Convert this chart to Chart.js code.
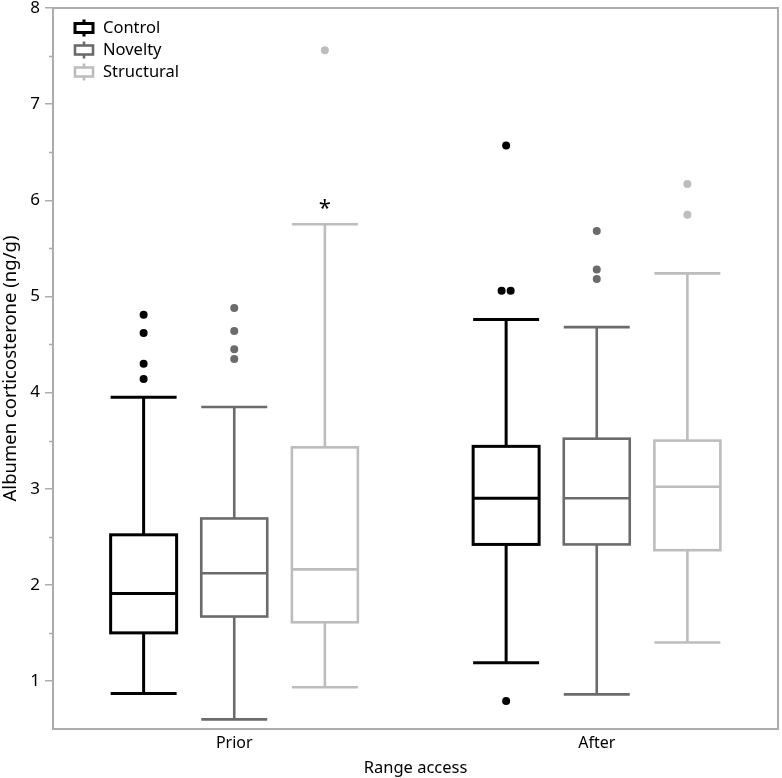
<!DOCTYPE html>
<html>
<head>
<meta charset="utf-8">
<title>Albumen corticosterone</title>
<script src="https://cdn.jsdelivr.net/npm/chart.js@4.4.1/dist/chart.umd.min.js"></script>
<style>
  html, body { margin: 0; padding: 0; background: #fff; }
  #wrap { width: 782px; height: 778px; position: relative; }
</style>
</head>
<body>
<div id="wrap"><canvas id="boxChart"></canvas></div>
<script>
// groups on the x axis and the three treatments
const groups = ['Prior', 'After'];
const seriesNames = ['Control', 'Novelty', 'Structural'];

// one row per group: [whisker low, Q1, median, Q3, whisker high]
const controlBoxes = [[0.87, 1.50, 1.91, 2.52, 3.95], [1.19, 2.42, 2.90, 3.44, 4.76]];
const noveltyBoxes = [[0.60, 1.67, 2.12, 2.69, 3.85], [0.86, 2.42, 2.90, 3.52, 4.68]];
const structuralBoxes = [[0.935, 1.61, 2.16, 3.43, 5.75], [1.40, 2.36, 3.02, 3.50, 5.24]];

// outliers per group
const controlOutliers = [[4.81, 4.62, 4.30, 4.14], [6.57, 5.06, 5.06, 0.79]];
const noveltyOutliers = [[4.88, 4.64, 4.45, 4.35], [5.68, 5.28, 5.18]];
const structuralOutliers = [[7.56], [6.17, 5.85]];

// significance mark (asterisk) above this box
const starGroup = 'Prior';
const starSeries = 'Structural';

const yTickValues = [1, 2, 3, 4, 5, 6, 7, 8];
const yMinorValues = [1.5, 2.5, 3.5, 4.5, 5.5, 6.5, 7.5];

// styling
const seriesColors = ['#000000', '#6b6b6b', '#bdbdbd'];
const seriesLineWidths = [3, 2.6, 2.6];
const seriesOffsets = [-0.25, 0, 0.25]; // position within a group
const boxWidth = 0.182;                  // in x units
const frameColor = '#acacac';
const fontFamily = '"Noto Sans", "Open Sans", sans-serif';

const allBoxes = [controlBoxes, noveltyBoxes, structuralBoxes];
const allOutliers = [controlOutliers, noveltyOutliers, structuralOutliers];

// spread out identical outliers a little, like the original plot
function outlierPoints(list, s) {
  const pts = [];
  list.forEach((vals, g) => {
    vals.forEach((v, i) => {
      const same = vals.filter(w => Math.abs(w - v) < 0.02);
      const k = vals.slice(0, i).filter(w => Math.abs(w - v) < 0.02).length;
      const jitter = same.length > 1 ? (k - (same.length - 1) / 2) * 0.025 : 0;
      pts.push({ x: g + seriesOffsets[s] + jitter, y: v });
    });
  });
  return pts;
}

const datasets = seriesNames.map((name, s) => ({
  label: name,
  data: outlierPoints(allOutliers[s], s),
  backgroundColor: seriesColors[s],
  borderWidth: 0,
  pointRadius: 4,
  pointHoverRadius: 4
}));

const boxPlugin = {
  id: 'boxPlot',
  beforeDatasetsDraw(chart) {
    const ctx = chart.ctx;
    const x = chart.scales.x, y = chart.scales.y;
    const halfW = (x.getPixelForValue(boxWidth) - x.getPixelForValue(0)) / 2;
    ctx.save();
    allBoxes.forEach((boxes, s) => {
      ctx.strokeStyle = seriesColors[s];
      ctx.lineWidth = seriesLineWidths[s];
      ctx.lineCap = 'butt';
      boxes.forEach((b, g) => {
        const cx = x.getPixelForValue(g + seriesOffsets[s]);
        const [lo, q1, med, q3, hi] = b.map(v => y.getPixelForValue(v));
        ctx.beginPath();
        // whiskers
        ctx.moveTo(cx, q3); ctx.lineTo(cx, hi);
        ctx.moveTo(cx - halfW, hi); ctx.lineTo(cx + halfW, hi);
        ctx.moveTo(cx, q1); ctx.lineTo(cx, lo);
        ctx.moveTo(cx - halfW, lo); ctx.lineTo(cx + halfW, lo);
        // median
        ctx.moveTo(cx - halfW, med); ctx.lineTo(cx + halfW, med);
        ctx.stroke();
        ctx.strokeRect(cx - halfW, q3, halfW * 2, q1 - q3);
      });
    });
    // asterisk
    const gi = groups.indexOf(starGroup), si = seriesNames.indexOf(starSeries);
    const sx = x.getPixelForValue(gi + seriesOffsets[si]);
    const sy = y.getPixelForValue(allBoxes[si][gi][4]);
    ctx.fillStyle = '#000';
    ctx.font = '22px ' + fontFamily;
    ctx.textAlign = 'center';
    ctx.textBaseline = 'middle';
    ctx.fillText('*', sx, sy - 16);
    ctx.restore();
  },
  afterDraw(chart) {
    const ctx = chart.ctx;
    const a = chart.chartArea;
    const y = chart.scales.y;
    ctx.save();
    // frame round the plot
    ctx.strokeStyle = frameColor;
    ctx.lineWidth = 2;
    ctx.strokeRect(a.left, a.top, a.right - a.left, a.bottom - a.top);
    // minor ticks
    ctx.beginPath();
    yMinorValues.forEach(v => {
      const py = Math.round(y.getPixelForValue(v)) + 0.5;
      ctx.moveTo(a.left - 4, py); ctx.lineTo(a.left, py);
    });
    ctx.lineWidth = 1.5;
    ctx.stroke();
    // legend in the top-left corner
    ctx.font = '16.5px ' + fontFamily;
    ctx.textAlign = 'left';
    ctx.textBaseline = 'middle';
    seriesNames.forEach((name, s) => {
      const cy = a.top + 20 + s * 22;
      const cx = a.left + 31;
      ctx.strokeStyle = seriesColors[s];
      ctx.lineWidth = s === 0 ? 3 : 2.6;
      ctx.strokeRect(cx - 9, cy - 4.5, 18, 9);
      ctx.beginPath();
      ctx.moveTo(cx, cy - 8.5); ctx.lineTo(cx, cy - 4.5);
      ctx.moveTo(cx, cy + 4.5); ctx.lineTo(cx, cy + 8.5);
      ctx.stroke();
      ctx.fillStyle = '#000';
      ctx.fillText(name, a.left + 50, cy);
    });
    ctx.restore();
  }
};

new Chart(document.getElementById('boxChart'), {
  type: 'scatter',
  data: { datasets: datasets },
  plugins: [boxPlugin],
  options: {
    responsive: true,
    maintainAspectRatio: false,
    animation: false,
    layout: { padding: { top: 8, right: 4, left: 0, bottom: 0 } },
    plugins: {
      legend: { display: false },
      tooltip: { enabled: false }
    },
    scales: {
      x: {
        type: 'linear',
        min: -0.5,
        max: 1.5,
        afterBuildTicks: scale => { scale.ticks = groups.map((g, i) => ({ value: i })); },
        afterFit: scale => {
          scale.height = 49;
          scale.paddingLeft = 0;
          scale.paddingRight = 0;
        },
        ticks: {
          callback: v => groups[v],
          color: '#000',
          padding: 5,
          font: { family: fontFamily, size: 16 }
        },
        grid: { display: false, drawTicks: false },
        border: { display: false },
        title: {
          display: true,
          text: 'Range access',
          color: '#000',
          padding: { top: 0, bottom: 0 },
          font: { family: fontFamily, size: 16.5 }
        }
      },
      y: {
        min: 0.5,
        max: 8,
        afterBuildTicks: scale => { scale.ticks = yTickValues.map(v => ({ value: v })); },
        afterFit: scale => {
          scale.width = 53;
          scale.paddingTop = 0;
          scale.paddingBottom = 0;
        },
        ticks: {
          color: '#000',
          padding: 5,
          font: { family: fontFamily, size: 17 }
        },
        grid: { drawOnChartArea: false, tickLength: 8, color: frameColor, lineWidth: 1.5 },
        border: { display: false },
        title: {
          display: true,
          text: 'Albumen corticosterone (ng/g)',
          color: '#000',
          padding: { top: 0, bottom: 0 },
          font: { family: fontFamily, size: 18.5 }
        }
      }
    }
  }
});
</script>
</body>
</html>
